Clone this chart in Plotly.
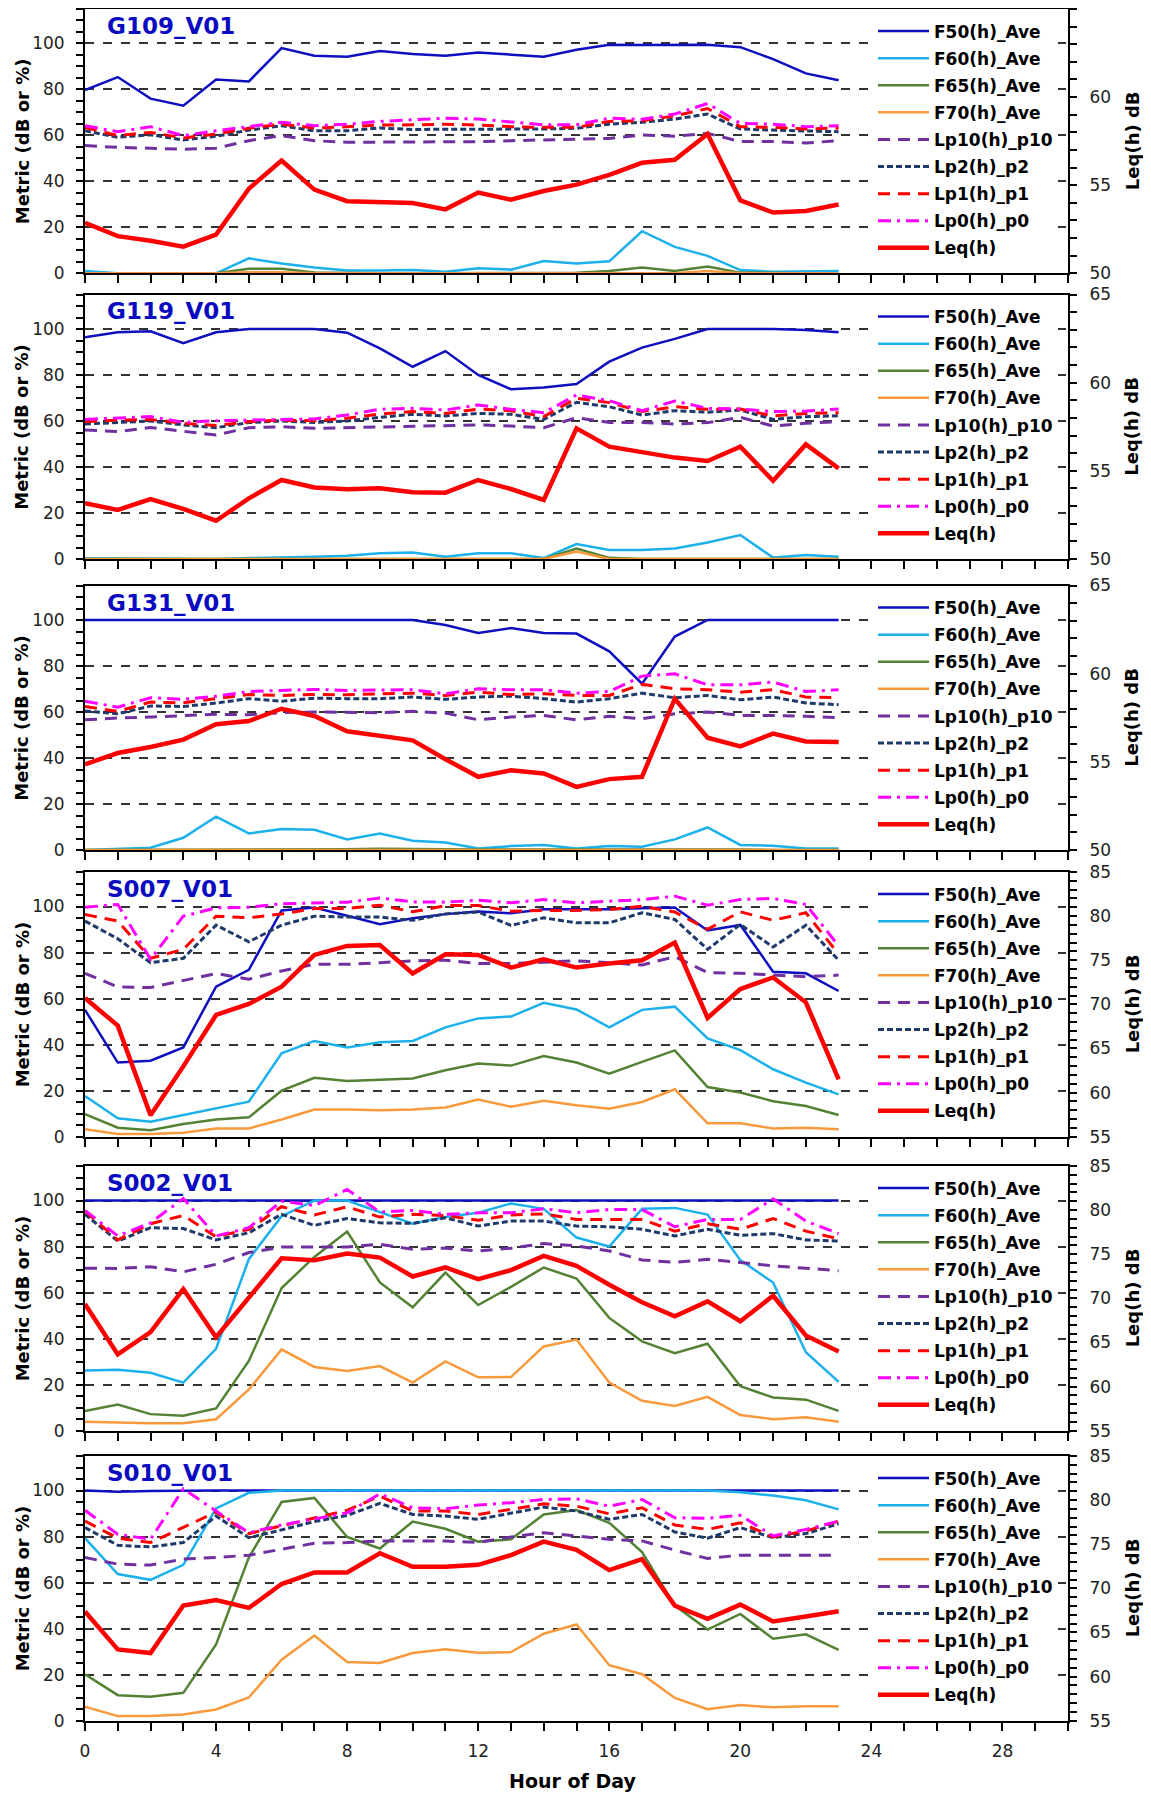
import plotly.graph_objects as go
from plotly.subplots import make_subplots

hours = list(range(24))

sites = ["G109_V01", "G119_V01", "G131_V01", "S007_V01", "S002_V01", "S010_V01"]
leq_ranges = [[50, 65], [50, 65], [50, 65], [55, 85], [55, 85], [55, 85]]

# G109_V01
g109_f50 = [79.7, 85.4, 76.0, 72.9, 84.3, 83.5, 98.0, 94.7, 94.2, 96.7, 95.4, 94.7, 96.1, 95.1, 94.2, 97.3, 99.4, 99.3, 99.4, 99.4, 98.4, 93.2, 87.0, 84.0]
g109_f60 = [1.0, 0.0, 0.0, 0.0, 0.0, 6.5, 4.3, 2.5, 1.2, 1.2, 1.4, 0.7, 2.2, 1.6, 5.3, 4.3, 5.2, 18.3, 11.5, 7.6, 1.4, 0.7, 1.0, 1.0]
g109_f65 = [0, 0, 0, 0, 0, 2.0, 2.0, 0.3, 0, 0, 0, 0, 0, 0, 0, 0.2, 1.0, 2.5, 1.0, 3.0, 0.3, 0, 0, 0]
g109_f70 = [0, 0, 0, 0, 0, 0.5, 0.5, 0, 0, 0, 0, 0, 0, 0, 0, 0, 0, 0.3, 0, 1.0, 0, 0, 0, 0]
g109_lp10 = [55.6, 54.8, 54.4, 54.0, 54.4, 57.7, 59.9, 57.7, 57.0, 57.0, 57.0, 57.0, 57.3, 57.7, 58.0, 58.2, 58.7, 60.2, 59.6, 60.9, 57.3, 57.3, 56.7, 57.7]
g109_lp2 = [62.0, 59.2, 60.3, 58.0, 59.6, 62.3, 64.2, 62.0, 62.0, 63.2, 62.6, 62.6, 62.6, 62.9, 62.8, 63.1, 64.9, 65.7, 67.1, 69.3, 62.8, 62.3, 62.0, 61.6]
g109_lp1 = [63.5, 59.9, 61.3, 58.9, 60.6, 63.1, 64.9, 63.2, 63.8, 64.5, 64.6, 64.9, 64.5, 63.8, 63.5, 63.5, 66.1, 66.4, 68.5, 71.7, 63.8, 63.5, 62.8, 63.2]
g109_lp0 = [64.2, 61.6, 63.8, 59.9, 62.0, 63.8, 65.7, 64.2, 64.9, 66.1, 66.8, 67.5, 67.1, 65.7, 64.6, 64.6, 67.5, 67.0, 69.3, 73.9, 65.2, 64.9, 63.8, 64.2]
g109_leq = [52.86, 52.11, 51.85, 51.51, 52.2, 54.8, 56.4, 54.75, 54.09, 54.01, 53.99, 53.63, 54.58, 54.18, 54.67, 55.03, 55.59, 56.27, 56.44, 57.91, 54.14, 53.45, 53.54, 53.9]

# G119_V01
g119_f50 = [96.4, 98.6, 99.0, 93.8, 98.6, 100, 100, 100, 98.4, 91.6, 83.6, 90.4, 80.0, 73.8, 74.6, 76.1, 85.8, 91.9, 95.7, 100, 100, 100, 99.6, 98.6]
g119_f60 = [0.3, 0.3, 0.3, 0.2, 0, 0.4, 0.6, 1.0, 1.4, 2.5, 2.8, 1.0, 2.5, 2.5, 0.4, 6.5, 3.9, 3.9, 4.6, 7.2, 10.4, 0.6, 1.7, 1.0]
g119_f65 = [0, 0, 0, 0, 0, 0, 0, 0, 0, 0, 0, 0, 0, 0, 0, 4.5, 0.5, 0, 0, 0, 0, 0, 0, 0]
g119_f70 = [0, 0, 0, 0, 0, 0, 0, 0, 0, 0, 0, 0, 0, 0, 0, 3.2, 0, 0, 0, 0, 0, 0, 0, 0]
g119_lp10 = [56.1, 55.4, 57.2, 55.4, 53.9, 57.1, 57.5, 56.8, 57.1, 57.5, 57.8, 57.8, 58.3, 57.8, 57.1, 61.4, 59.4, 59.4, 58.7, 59.3, 61.6, 57.8, 59.0, 59.7]
g119_lp2 = [58.7, 59.3, 60.0, 58.3, 57.1, 59.3, 60.0, 59.4, 60.0, 61.6, 62.9, 62.2, 63.3, 62.9, 60.7, 68.1, 66.2, 62.6, 64.5, 63.8, 64.8, 60.7, 61.9, 62.3]
g119_lp1 = [59.7, 60.4, 60.7, 59.0, 58.0, 59.7, 60.4, 60.1, 61.2, 63.0, 64.1, 63.3, 65.2, 64.5, 61.9, 69.9, 68.0, 64.1, 66.2, 65.1, 65.2, 62.2, 63.3, 63.6]
g119_lp0 = [60.7, 61.4, 61.9, 59.4, 60.1, 60.4, 60.7, 60.9, 62.6, 65.1, 65.5, 64.8, 67.0, 65.1, 63.6, 71.3, 68.8, 64.5, 68.7, 65.5, 65.2, 64.1, 64.3, 65.2]
g119_leq = [53.16, 52.78, 53.4, 52.84, 52.17, 53.44, 54.48, 54.06, 53.95, 54.01, 53.78, 53.76, 54.48, 53.97, 53.35, 57.41, 56.37, 56.05, 55.75, 55.56, 56.37, 54.44, 56.5, 55.14]

# G131_V01
g131_f50 = [100, 100, 100, 100, 100, 100, 100, 100, 100, 100, 100, 97.8, 94.4, 96.5, 94.4, 94.1, 86.4, 72.3, 92.8, 100, 100, 100, 100, 100]
g131_f60 = [0, 0.4, 1.0, 5.3, 14.5, 7.2, 9.1, 8.8, 4.6, 7.2, 4.0, 3.3, 0.7, 1.7, 2.2, 0.7, 1.7, 1.4, 4.6, 9.8, 2.2, 1.9, 0.7, 0.6]
g131_f65 = [0, 0, 0, 0, 0, 0.3, 0.3, 0.3, 0.3, 0.5, 0.3, 0.3, 0.2, 0.2, 0.2, 0.3, 0.5, 0.5, 0.3, 0.5, 0.2, 0, 0, 0]
g131_f70 = [0, 0, 0, 0, 0, 0, 0, 0, 0, 0, 0, 0, 0, 0, 0, 0, 0, 0, 0, 0, 0, 0, 0, 0]
g131_lp10 = [56.6, 57.4, 57.8, 58.5, 59.0, 58.8, 59.7, 60.0, 59.7, 59.7, 60.3, 59.5, 56.6, 57.8, 58.5, 56.6, 58.1, 57.1, 59.2, 60.0, 58.5, 58.5, 58.1, 57.5]
g131_lp2 = [60.4, 59.2, 62.6, 62.4, 63.9, 65.8, 64.7, 66.0, 65.8, 65.8, 66.5, 65.5, 66.5, 66.9, 65.8, 64.3, 65.8, 68.2, 66.2, 67.2, 65.3, 66.5, 63.9, 63.2]
g131_lp1 = [62.4, 60.3, 64.3, 64.0, 65.8, 67.6, 67.2, 67.6, 67.5, 67.9, 68.2, 67.2, 68.6, 67.6, 67.9, 67.2, 67.2, 72.0, 70.1, 69.7, 68.6, 69.7, 66.5, 66.2]
g131_lp0 = [64.7, 62.1, 66.2, 65.5, 66.8, 68.9, 69.4, 69.8, 69.4, 69.4, 69.7, 67.9, 70.1, 69.7, 69.7, 68.2, 68.9, 75.6, 76.6, 71.8, 71.8, 73.0, 68.9, 69.7]
g131_leq = [54.86, 55.5, 55.84, 56.26, 57.13, 57.31, 58.01, 57.6, 56.73, 56.5, 56.22, 55.15, 54.15, 54.52, 54.34, 53.58, 54.02, 54.15, 58.58, 56.37, 55.88, 56.6, 56.16, 56.13]

# S007_V01
s007_f50 = [55.1, 32.2, 33.0, 38.8, 65.2, 72.5, 98.3, 99.6, 96.0, 92.3, 94.9, 96.7, 97.8, 97.1, 98.8, 98.8, 98.8, 99.3, 99.6, 89.6, 92.0, 71.7, 71.0, 63.3]
s007_f60 = [17.7, 8.0, 6.5, 9.4, 12.6, 15.2, 36.2, 41.6, 38.8, 41.0, 41.6, 47.5, 51.4, 52.2, 58.2, 55.3, 47.5, 55.1, 56.5, 42.7, 37.6, 29.3, 23.5, 18.4]
s007_f65 = [9.8, 3.9, 2.8, 5.5, 7.5, 8.4, 20.0, 25.6, 24.2, 24.9, 25.3, 28.9, 31.8, 30.9, 35.0, 32.2, 27.4, 32.5, 37.5, 21.6, 19.2, 15.4, 13.3, 9.4]
s007_f70 = [3.2, 1.2, 1.2, 1.7, 3.6, 3.6, 7.5, 11.8, 11.8, 11.5, 11.8, 12.7, 16.1, 13.0, 15.6, 13.7, 12.2, 15.1, 20.6, 5.8, 5.8, 3.6, 3.9, 3.2]
s007_lp10 = [71.0, 65.1, 64.8, 67.7, 70.9, 68.4, 72.0, 74.9, 74.9, 75.6, 76.4, 76.7, 75.2, 75.2, 75.9, 76.4, 75.6, 74.6, 78.2, 71.3, 71.0, 70.2, 69.5, 70.2]
s007_lp2 = [93.7, 86.0, 75.6, 77.5, 91.9, 84.7, 91.9, 95.8, 95.4, 95.4, 94.0, 96.8, 97.6, 91.8, 95.1, 92.9, 92.9, 97.3, 94.4, 81.4, 92.2, 82.4, 91.9, 76.7]
s007_lp1 = [96.5, 93.7, 77.5, 81.4, 95.8, 95.1, 96.8, 99.1, 99.1, 100.6, 97.7, 100.4, 100.4, 98.0, 98.3, 98.3, 98.7, 100.1, 97.6, 90.1, 97.7, 94.0, 97.3, 79.3]
s007_lp0 = [99.7, 100.9, 77.1, 95.8, 99.4, 99.7, 101.2, 101.6, 101.9, 103.7, 102.0, 101.9, 102.7, 101.6, 103.0, 101.6, 102.3, 103.0, 104.5, 100.6, 103.0, 103.5, 100.9, 82.9]
s007_leq = [70.71, 67.59, 57.44, 62.97, 68.8, 70.04, 72.0, 75.6, 76.62, 76.73, 73.5, 75.68, 75.6, 74.17, 75.11, 74.17, 74.62, 75.0, 77.0, 68.46, 71.73, 73.05, 70.23, 61.5]

# S002_V01
s002_f50 = [100, 100, 100, 100, 100, 100, 100, 100, 100, 100, 100, 100, 100, 100, 100, 100, 100, 100, 100, 100, 100, 100, 100, 100]
s002_f60 = [26.2, 26.5, 25.2, 20.9, 35.6, 74.5, 93.2, 100, 100, 95.0, 89.9, 92.8, 94.7, 98.7, 96.4, 83.9, 80.0, 96.4, 96.8, 93.9, 74.1, 64.4, 34.1, 21.2]
s002_f65 = [8.6, 11.4, 7.2, 6.5, 9.7, 30.3, 62.0, 75.5, 86.5, 64.4, 53.6, 68.7, 54.6, 62.5, 70.9, 66.1, 49.0, 38.8, 33.7, 37.8, 19.3, 14.4, 13.5, 8.6]
s002_f70 = [3.9, 3.5, 3.2, 3.2, 5.0, 17.9, 35.3, 27.7, 25.9, 28.1, 20.9, 30.1, 23.2, 23.3, 36.6, 39.6, 20.9, 13.0, 10.7, 14.7, 6.8, 5.0, 5.8, 3.9]
s002_lp10 = [70.6, 70.5, 71.2, 69.0, 72.3, 77.4, 79.8, 79.8, 79.8, 81.0, 78.8, 79.3, 78.1, 79.3, 81.3, 80.3, 78.1, 74.2, 73.1, 74.5, 73.1, 71.6, 70.6, 69.5]
s002_lp2 = [94.0, 82.4, 88.2, 87.8, 82.9, 86.0, 94.0, 89.2, 92.2, 90.3, 90.1, 92.5, 88.9, 91.1, 91.1, 88.9, 88.6, 87.5, 84.6, 87.5, 84.9, 85.6, 82.9, 82.4]
s002_lp1 = [95.4, 82.9, 89.9, 93.5, 84.3, 87.5, 97.3, 93.7, 97.3, 92.8, 94.0, 93.5, 91.4, 93.7, 94.2, 91.8, 91.8, 91.8, 86.7, 89.9, 87.5, 92.2, 86.7, 83.4]
s002_lp0 = [95.7, 84.6, 90.3, 100.9, 84.6, 88.2, 99.7, 97.8, 104.8, 95.0, 95.7, 94.0, 94.7, 94.7, 96.4, 94.7, 96.1, 96.1, 88.6, 91.8, 91.8, 100.7, 91.1, 85.6]
s002_leq = [69.36, 63.65, 66.17, 71.05, 65.6, 70.11, 74.55, 74.32, 75.08, 74.62, 72.48, 73.5, 72.18, 73.2, 74.81, 73.68, 71.54, 69.55, 67.97, 69.66, 67.41, 70.3, 65.79, 63.98]

# S010_V01
s010_f50 = [100, 99.5, 99.8, 100, 100, 100, 100, 100, 100, 100, 100, 100, 100, 100, 100, 100, 100, 100, 100, 100, 100, 100, 100, 100]
s010_f60 = [79.3, 63.7, 61.2, 67.7, 92.2, 99.0, 100, 100, 100, 100, 100, 100, 100, 100, 100, 100, 100, 100, 100, 100, 99.3, 97.8, 95.8, 91.8]
s010_f65 = [20.2, 11.1, 10.4, 12.1, 33.1, 70.9, 95.0, 96.8, 79.8, 74.8, 86.5, 83.4, 77.8, 78.8, 89.6, 91.5, 86.0, 73.3, 50.0, 39.6, 46.4, 35.6, 37.5, 30.8]
s010_f70 = [6.1, 2.0, 2.0, 2.7, 4.9, 10.1, 26.5, 37.0, 25.5, 25.1, 29.4, 31.0, 29.5, 29.8, 37.8, 41.8, 24.1, 20.2, 9.9, 5.0, 6.8, 5.8, 6.3, 6.3]
s010_lp10 = [70.9, 68.0, 67.6, 70.2, 70.9, 71.9, 74.5, 77.1, 77.4, 78.1, 78.1, 78.1, 77.4, 79.8, 81.7, 80.3, 78.8, 78.1, 74.1, 70.5, 71.9, 71.9, 71.9, 71.9]
s010_lp2 = [83.9, 76.2, 75.5, 77.4, 88.9, 79.5, 82.9, 86.5, 89.2, 94.4, 89.6, 88.9, 87.5, 90.1, 92.8, 91.1, 87.5, 89.6, 82.0, 79.3, 83.9, 79.5, 81.3, 85.6]
s010_lp1 = [86.7, 79.3, 77.4, 84.1, 90.6, 81.3, 84.6, 87.8, 91.4, 97.6, 91.1, 91.1, 89.6, 91.8, 94.2, 93.2, 89.9, 92.5, 85.0, 83.1, 86.0, 79.8, 82.4, 86.7]
s010_lp0 = [91.4, 81.0, 78.8, 100.7, 91.1, 81.7, 85.0, 87.5, 90.3, 98.6, 92.5, 92.1, 93.7, 94.7, 96.1, 96.4, 93.2, 96.1, 88.2, 87.9, 89.2, 80.3, 83.1, 86.7]
s010_leq = [67.37, 63.08, 62.67, 68.05, 68.68, 67.78, 70.49, 71.8, 71.8, 73.98, 72.44, 72.44, 72.67, 73.76, 75.3, 74.36, 72.07, 73.31, 68.05, 66.54, 68.16, 66.24, 66.8, 67.41]

panel_series = [
    [g109_f50, g109_f60, g109_f65, g109_f70, g109_lp10, g109_lp2, g109_lp1, g109_lp0],
    [g119_f50, g119_f60, g119_f65, g119_f70, g119_lp10, g119_lp2, g119_lp1, g119_lp0],
    [g131_f50, g131_f60, g131_f65, g131_f70, g131_lp10, g131_lp2, g131_lp1, g131_lp0],
    [s007_f50, s007_f60, s007_f65, s007_f70, s007_lp10, s007_lp2, s007_lp1, s007_lp0],
    [s002_f50, s002_f60, s002_f65, s002_f70, s002_lp10, s002_lp2, s002_lp1, s002_lp0],
    [s010_f50, s010_f60, s010_f65, s010_f70, s010_lp10, s010_lp2, s010_lp1, s010_lp0],
]
panel_leq = [g109_leq, g119_leq, g131_leq, s007_leq, s002_leq, s010_leq]

names = ["F50(h)_Ave", "F60(h)_Ave", "F65(h)_Ave", "F70(h)_Ave",
         "Lp10(h)_p10", "Lp2(h)_p2", "Lp1(h)_p1", "Lp0(h)_p0"]
colors = ["#0F0FBF", "#1DB1EC", "#548235", "#F89A3C",
          "#7030A0", "#1F3A6A", "#FF0000", "#FF00FF"]
dashes = ["solid", "solid", "solid", "solid",
          "12px,8px", "6px,3px", "12px,8px", "13px,6px,3px,6px"]
widths = [2.5, 2.5, 2.5, 2.5, 3, 3, 3, 3]

# page has an 8px body margin, so the figure is shrunk and shifted by it
OFF = 8
W, H = 1151 - 2 * OFF, 1800 - 2 * OFF
panel_px = [(9, 273.3), (294.5, 559), (585.5, 850), (872, 1136.7), (1166, 1430.7), (1456, 1720.7)]
x_left, x_right = 85, 1068


def px_x(p):
    return (p - OFF) / W


def px_y(p):
    return 1 - (p - OFF) / H


tick_font = dict(family="DejaVu Sans", size=17, color="#222")
bold_font = dict(family="DejaVu Sans", size=18, color="black", weight="bold")

fig = make_subplots(rows=6, cols=1, specs=[[{"secondary_y": True}]] * 6)

for i in range(6):
    row = i + 1
    leg = "legend" if i == 0 else "legend%d" % row
    for name, vals, c, d, w in zip(names, panel_series[i], colors, dashes, widths):
        fig.add_trace(go.Scatter(x=hours, y=vals, mode="lines", name=name,
                                 line=dict(color=c, dash=d, width=w),
                                 legend=leg, legendgroup="%d_%s" % (i, name)),
                      row=row, col=1, secondary_y=False)
    fig.add_trace(go.Scatter(x=hours, y=panel_leq[i], mode="lines", name="Leq(h)",
                             line=dict(color="#FF0000", width=4.5),
                             legend=leg, legendgroup="%d_Leq" % i),
                  row=row, col=1, secondary_y=True)

    top, bot = panel_px[i]
    dom = [px_y(bot), px_y(top)]
    fig.update_yaxes(domain=dom, range=[0, 115], tickmode="linear", tick0=0, dtick=20,
                     ticks="outside", ticklen=7, tickwidth=1.5, tickcolor="black",
                     showline=True, linecolor="black", linewidth=2,
                     showgrid=True, gridcolor="#333", griddash="dash", gridwidth=1.5,
                     zeroline=False, tickfont=tick_font, ticklabelstandoff=8,
                     minor=dict(tick0=0, dtick=5, ticks="outside", ticklen=7,
                                tickwidth=1.5, tickcolor="black", showgrid=False),
                     row=row, col=1, secondary_y=False)
    fig.update_yaxes(domain=dom, range=leq_ranges[i], tickmode="linear", tick0=0, dtick=5,
                     ticks="outside", ticklen=7, tickwidth=1.5, tickcolor="black",
                     showline=True, linecolor="black", linewidth=2,
                     showgrid=False, zeroline=False, tickfont=tick_font, ticklabelstandoff=9,
                     minor=dict(tick0=0, dtick=1, ticks="outside", ticklen=7,
                                tickwidth=1.5, tickcolor="black", showgrid=False),
                     row=row, col=1, secondary_y=True)
    fig.update_xaxes(domain=[px_x(x_left), px_x(x_right)], range=[0, 30], tickmode="linear",
                     tick0=0, dtick=4, ticks="outside", ticklen=8, tickwidth=1.5,
                     tickcolor="black", showline=True, mirror=True, linecolor="black",
                     linewidth=2, showgrid=False, zeroline=False,
                     showticklabels=(row == 6), tickfont=tick_font, ticklabelstandoff=6,
                     minor=dict(tick0=0, dtick=1, ticks="outside", ticklen=8,
                                tickwidth=1.5, tickcolor="black", showgrid=False),
                     row=row, col=1)

    fig.update_layout({leg: dict(x=px_x(873), y=px_y(top + 4.5), xanchor="left", yanchor="top",
                                 bgcolor="white", borderwidth=0, itemwidth=51,
                                 traceorder="grouped", tracegroupgap=2,
                                 font=dict(family="DejaVu Sans", size=17, color="black",
                                           weight="bold"))})

    fig.add_annotation(text=sites[i], xref="paper", yref="paper", x=px_x(105),
                       y=px_y(top + 17), xanchor="left", yanchor="middle",
                       showarrow=False,
                       font=dict(family="DejaVu Sans", size=23, color="#0A0AC0", weight="bold"))
    mid = px_y((top + bot) / 2)
    fig.add_annotation(text="Metric (dB or %)", xref="paper", yref="paper", x=px_x(22), y=mid,
                       textangle=-90, showarrow=False, xanchor="center", yanchor="middle",
                       font=bold_font)
    fig.add_annotation(text="Leq(h) dB", xref="paper", yref="paper", x=px_x(1132), y=mid,
                       textangle=-90, showarrow=False, xanchor="center", yanchor="middle",
                       font=bold_font)

fig.add_annotation(text="Hour of Day", xref="paper", yref="paper", x=px_x(572), y=px_y(1781),
                   showarrow=False, xanchor="center", yanchor="middle",
                   font=dict(family="DejaVu Sans", size=19, color="black", weight="bold"))

fig.update_layout(width=W, height=H, margin=dict(l=0, r=0, t=0, b=0),
                  paper_bgcolor="white", plot_bgcolor="white", template="none",
                  font=dict(family="DejaVu Sans"))

fig.write_html("out.html")
